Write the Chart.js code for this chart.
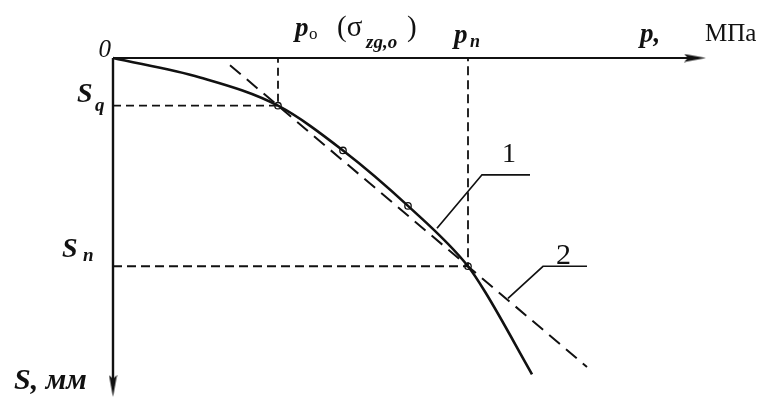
<!DOCTYPE html>
<html><head><meta charset="utf-8">
<script src="https://cdn.jsdelivr.net/npm/chart.js@4"></script>
<style>html,body{margin:0;padding:0;background:#fff}#wrap{width:757px;height:412px;position:relative}</style>
</head><body><div id="wrap"><canvas id="c"></canvas></div>
<script>
// Curve 1: settlement S (mm) vs pressure p (schematic units)
const curveP = [0, 1.74, 3.3, 4.6, 5.9, 7.1, 7.45, 8.38];
const curveS = [0, 0.4, 0.98, 1.9, 3.04, 4.28, 4.82, 6.5];
// Test points (small circles)
const markP = [3.3, 4.6, 5.9, 7.1];
const markS = [0.98, 1.9, 3.04, 4.28];
// Line 2 (dashed straight line)
const line2P = [2.34, 9.48];
const line2S = [0.147, 6.35];
// Characteristic values
const p0 = 3.3, Sq = 0.98, pn = 7.1, Sn = 4.28;
// Axis extents
const axisPEnd = 11.64, axisSEnd = 6.74;
// Leader lines for labels "1" and "2"
const lead1P = [6.48, 7.38, 8.34], lead1S = [3.5, 2.4, 2.4];
const lead2P = [7.9, 8.6, 9.48], lead2S = [4.94, 4.28, 4.28];
const labels = {one: '1', two: '2'};

const pts = (xs, ys) => xs.map((x, i) => ({x, y: ys[i]}));

// arrowhead image pointing right
const arrow = document.createElement('canvas');
arrow.width = 22; arrow.height = 9;
(function(){const g = arrow.getContext('2d'); g.fillStyle = '#111'; g.beginPath();
 g.moveTo(0,0.5); g.lineTo(22,4.5); g.lineTo(0,8.5); g.lineTo(4,4.5); g.closePath(); g.fill();})();

const K = '#111';
const base = {showLine: true, borderColor: K, pointRadius: 0, clip: false, fill: false};

const textPlugin = {
  id: 'texts',
  afterDatasetsDraw(chart) {
    const ctx = chart.ctx, xs = chart.scales.x, ys = chart.scales.y;
    const X = v => xs.getPixelForValue(v), Y = v => ys.getPixelForValue(v);
    const serif = '"Liberation Serif", "DejaVu Serif", serif';
    const t = (s, x, y, font, align) => { ctx.font = font + ' ' + serif; ctx.textAlign = align || 'left'; ctx.textBaseline = 'alphabetic'; ctx.fillStyle = K; ctx.fillText(s, x, y); };
    const x0 = X(0), y0 = Y(0);
    t('0', x0 - 2, y0 - 1, 'italic 25px', 'right');
    // S_q
    t('S', x0 - 36, Y(Sq) - 4, 'italic bold 28px');
    t('q', x0 - 18, Y(Sq) + 5, 'italic bold 19px');
    // S_n
    t('S', x0 - 51, Y(Sn) - 9, 'italic bold 28px');
    t('n', x0 - 30, Y(Sn) - 5, 'italic bold 19px');
    // S, мм
    t('S, мм', x0 - 99, Y(axisSEnd) + 3, 'italic bold 30px');
    // p0 (σzg,0)
    const xp0 = X(p0);
    t('p', xp0 + 17, y0 - 22, 'italic bold 27px');
    t('o', xp0 + 31, y0 - 19, '17px');
    t('(σ', xp0 + 59, y0 - 22, '29px');
    t('zg,o', xp0 + 88, y0 - 10, 'italic bold 19px');
    t(')', xp0 + 129, y0 - 22, '29px');
    // p_n
    const xpn = X(pn);
    t('p', xpn - 14, y0 - 15, 'italic bold 27px');
    t('n', xpn + 2, y0 - 11, 'italic bold 18px');
    // p, МПа
    t('p,', xs.getPixelForValue(axisPEnd) - 55, y0 - 16, 'italic bold 27px');
    t('МПа', xs.getPixelForValue(axisPEnd) + 10, y0 - 17, '25px');
    // labels 1 and 2
    t(labels.one, X(lead1P[1]) + 20, Y(lead1S[1]) - 13, '28px');
    t(labels.two, X(lead2P[1]) + 13, Y(lead2S[1]) - 2, '30px');
  }
};

new Chart(document.getElementById('c'), {
  type: 'scatter',
  data: {datasets: [
    {...base, data: [{x:0,y:0},{x:axisPEnd,y:0}], borderWidth: 2, pointRadius: [0, 11], pointStyle: arrow, rotation: 0},
    {...base, data: [{x:0,y:0},{x:0,y:axisSEnd}], borderWidth: 2.4, pointRadius: [0, 11], pointStyle: arrow, rotation: 90},
    {...base, data: [{x:0,y:Sq},{x:p0,y:Sq},{x:p0,y:0}], borderWidth: 1.8, borderDash: [8,5]},
    {...base, data: [{x:0,y:Sn},{x:pn,y:Sn},{x:pn,y:0}], borderWidth: 1.8, borderDash: [9,5]},
    {...base, data: pts(line2P, line2S), borderWidth: 2, borderDash: [14,8]},
    {...base, data: pts(curveP, curveS), borderWidth: 2.6, cubicInterpolationMode: 'monotone'},
    {...base, showLine: false, data: pts(markP, markS), pointRadius: 3.2, pointStyle: 'circle', backgroundColor: '#fff', borderWidth: 1.3},
    {...base, data: pts(lead1P, lead1S), borderWidth: 1.7},
    {...base, data: pts(lead2P, lead2S), borderWidth: 1.7}
  ]},
  options: {
    responsive: true, maintainAspectRatio: false, animation: false,
    layout: {padding: {left: 113, right: 44, top: 58, bottom: 4}},
    scales: {
      x: {type: 'linear', min: 0, max: 12, display: false},
      y: {type: 'linear', min: 0, max: 7, reverse: true, display: false}
    },
    plugins: {legend: {display: false}, tooltip: {enabled: false}},
    elements: {line: {tension: 0}}
  },
  plugins: [textPlugin]
});
</script></body></html>
